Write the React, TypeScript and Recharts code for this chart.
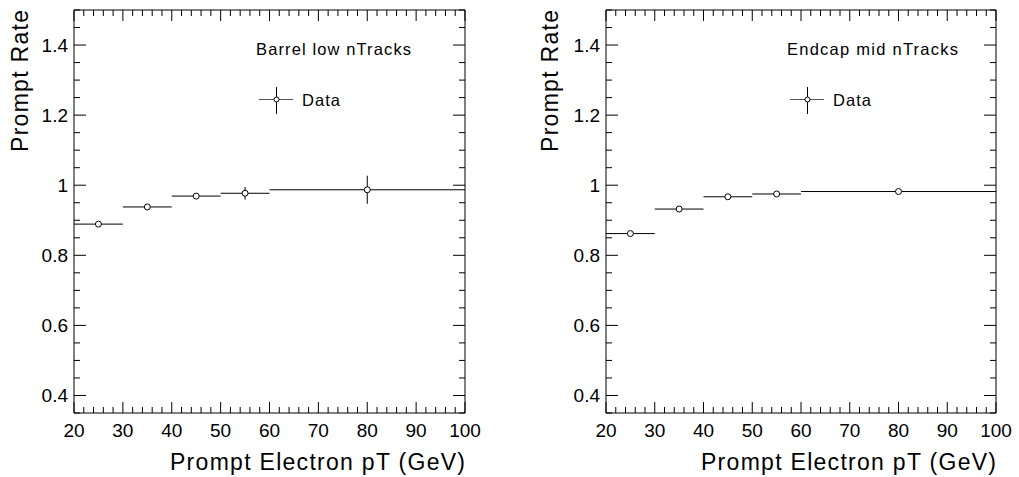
import { ScatterChart, Scatter, XAxis, YAxis, ErrorBar } from 'recharts'

// bin centres and half widths of the pT bins (GeV)
const PT_CENTERS = [25, 35, 45, 55, 80]
const PT_HALF_WIDTHS = [5, 5, 5, 5, 20]

const BARREL_LOW_RATE = [0.889, 0.938, 0.969, 0.977, 0.987]
const BARREL_LOW_ERR = [0.003, 0.003, 0.004, 0.018, 0.040]

const ENDCAP_MID_RATE = [0.862, 0.932, 0.967, 0.975, 0.982]
const ENDCAP_MID_ERR = [0.003, 0.003, 0.003, 0.004, 0.006]

const X_TICKS = [20, 22, 24, 26, 28, 30, 32, 34, 36, 38, 40, 42, 44, 46, 48, 50, 52, 54, 56, 58, 60, 62, 64, 66, 68, 70, 72, 74, 76, 78, 80, 82, 84, 86, 88, 90, 92, 94, 96, 98, 100]
const Y_TICKS = [0.35, 0.4, 0.45, 0.5, 0.55, 0.6, 0.65, 0.7, 0.75, 0.8, 0.85, 0.9, 0.95, 1, 1.05, 1.1, 1.15, 1.2, 1.25, 1.3, 1.35, 1.4, 1.45, 1.5]

const FONT = '"Liberation Sans", Arial, Helvetica, sans-serif'
const H = 477

const buildRows = (rate: number[], err: number[]) =>
  PT_CENTERS.map((pt, i) => ({ pt, rate: rate[i], xErr: PT_HALF_WIDTHS[i], yErr: err[i] }))

const isMajorX = (v: number) => v % 10 === 0
const isMajorY = (v: number) => Math.abs(v * 5 - Math.round(v * 5)) < 1e-6

function BottomTick(props: any) {
  const { x, y, payload } = props
  const v = payload.value
  const major = isMajorX(v)
  return (
    <g>
      <line x1={x} x2={x} y1={y} y2={y - (major ? 11 : 6)} stroke="#000" />
      {major && (
        <text x={x} y={y + 24} textAnchor="middle" fontSize={19} fontFamily={FONT} fill="#000">{v}</text>
      )}
    </g>
  )
}

function TopTick(props: any) {
  const { x, y, payload } = props
  const major = isMajorX(payload.value)
  return <line x1={x} x2={x} y1={y} y2={y + (major ? 11 : 6)} stroke="#000" />
}

function LeftTick(props: any) {
  const { x, y, payload } = props
  const v = payload.value
  const major = isMajorY(v)
  return (
    <g>
      <line x1={x} x2={x + (major ? 12 : 6)} y1={y} y2={y} stroke="#000" />
      {major && (
        <text x={x - 6} y={y} dy="0.36em" textAnchor="end" fontSize={19} fontFamily={FONT} fill="#000">
          {String(+v.toFixed(1))}
        </text>
      )}
    </g>
  )
}

function RightTick(props: any) {
  const { x, y, payload } = props
  const major = isMajorY(payload.value)
  return <line x1={x} x2={x - (major ? 12 : 6)} y1={y} y2={y} stroke="#000" />
}

const Marker = (p: any) => <circle cx={p.cx} cy={p.cy} r={3} fill="#fff" stroke="#000" strokeWidth={1} />

type PanelProps = {
  left: number
  width: number
  marginLeft: number
  marginRight: number
  rate: number[]
  err: number[]
  label: string
  labelX: number
  labelLen: number
  yTitleX: number
  legendX: number
}

function Panel(p: PanelProps) {
  const data = buildRows(p.rate, p.err)
  const plotRight = p.width - p.marginRight - 1
  return (
    <div style={{ position: 'absolute', left: p.left, top: 0, width: p.width, height: H }}>
      <ScatterChart width={p.width} height={H} margin={{ top: 9, right: p.marginRight, bottom: 63, left: p.marginLeft }}>
        <XAxis xAxisId="b" dataKey="pt" type="number" domain={[20, 100]} ticks={X_TICKS} interval={0}
          orientation="bottom" height={1} tickSize={0} tickMargin={0} tickLine={false}
          axisLine={{ stroke: '#000' }} tick={BottomTick} allowDataOverflow />
        <XAxis xAxisId="t" dataKey="pt" type="number" domain={[20, 100]} ticks={X_TICKS} interval={0}
          orientation="top" height={1} tickSize={0} tickMargin={0} tickLine={false}
          axisLine={{ stroke: '#000' }} tick={TopTick} allowDataOverflow />
        <YAxis yAxisId="l" dataKey="rate" type="number" domain={[0.35, 1.5]} ticks={Y_TICKS} interval={0}
          orientation="left" width={1} tickSize={0} tickMargin={0} tickLine={false}
          axisLine={{ stroke: '#000' }} tick={LeftTick} allowDataOverflow />
        <YAxis yAxisId="r" dataKey="rate" type="number" domain={[0.35, 1.5]} ticks={Y_TICKS} interval={0}
          orientation="right" width={1} tickSize={0} tickMargin={0} tickLine={false}
          axisLine={{ stroke: '#000' }} tick={RightTick} allowDataOverflow />
        <Scatter xAxisId="b" yAxisId="l" data={data} dataKey="rate" shape={Marker} isAnimationActive={false}>
          <ErrorBar dataKey="xErr" direction="x" width={0} stroke="#000" strokeWidth={1} isAnimationActive={false} />
          <ErrorBar dataKey="yErr" direction="y" width={0} stroke="#000" strokeWidth={1} isAnimationActive={false} />
        </Scatter>
        <Scatter xAxisId="t" yAxisId="r" data={data} dataKey="rate" shape={() => <g />} isAnimationActive={false} />
      </ScatterChart>

      {/* titles, label and legend */}
      <svg width={p.width} height={H} style={{ position: 'absolute', left: 0, top: 0, pointerEvents: 'none' }}>
        <text transform={`translate(${p.yTitleX},10) rotate(-90)`} textAnchor="end" fontSize={23} fontFamily={FONT}
          textLength={142} lengthAdjust="spacing" fill="#000">Prompt Rate</text>
        <text x={plotRight} y={470} textAnchor="end" fontSize={23} fontFamily={FONT}
          textLength={295} lengthAdjust="spacing" fill="#000">Prompt Electron pT (GeV)</text>
        <text x={p.labelX} y={55} fontSize={16.5} fontFamily={FONT} textLength={p.labelLen} lengthAdjust="spacing" fill="#000">
          {p.label}
        </text>
        <line x1={p.legendX - 17} x2={p.legendX + 17} y1={99.5} y2={99.5} stroke="#555" />
        <line x1={p.legendX + 0.5} x2={p.legendX + 0.5} y1={87} y2={114} stroke="#000" />
        <circle cx={p.legendX + 0.5} cy={99.5} r={2.5} fill="#fff" stroke="#000" />
        <text x={p.legendX + 26} y={106} fontSize={16.5} fontFamily={FONT} textLength={38} lengthAdjust="spacing" fill="#000">Data</text>
      </svg>
    </div>
  )
}

export default function App() {
  return (
    <div style={{ position: 'absolute', left: 0, top: 0, width: 1019, height: H, background: '#fff', overflow: 'hidden' }}>
      <Panel left={0} width={510} marginLeft={73} marginRight={44}
        rate={BARREL_LOW_RATE} err={BARREL_LOW_ERR}
        label="Barrel low nTracks" labelX={256} labelLen={155} yTitleX={28} legendX={276} />
      <Panel left={510} width={509} marginLeft={95} marginRight={22}
        rate={ENDCAP_MID_RATE} err={ENDCAP_MID_ERR}
        label="Endcap mid nTracks" labelX={277} labelLen={171} yTitleX={48} legendX={297} />
    </div>
  )
}
